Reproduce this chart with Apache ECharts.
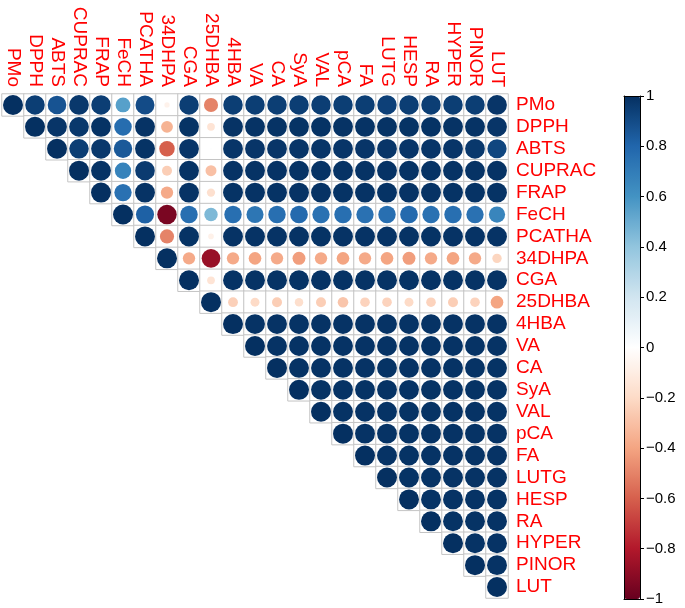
<!DOCTYPE html>
<html>
<head>
<meta charset="utf-8">
<script src="https://cdn.jsdelivr.net/npm/echarts@6/dist/echarts.min.js"></script>
<style>html,body{margin:0;padding:0;background:#fff;}#c{width:685px;height:608px;}</style>
</head>
<body>
<div id="c"></div>
<script>
var vars = ['PMo','DPPH','ABTS','CUPRAC','FRAP','FeCH','PCATHA','34DHPA','CGA','25DHBA','4HBA','VA','CA','SyA','VAL','pCA','FA','LUTG','HESP','RA','HYPER','PINOR','LUT'];

// upper-triangle correlation rows (from the diagonal to the right)
var rowPMo    = [1, 0.95, 0.87, 0.97, 0.95, 0.55, 0.9, -0.07, 0.95, -0.5, 0.95, 0.95, 0.95, 0.95, 0.95, 0.95, 0.95, 0.94, 0.95, 0.95, 0.95, 0.95, 0.98];
var rowDPPH   = [1, 0.98, 0.97, 0.99, 0.77, 0.99, -0.35, 0.99, -0.15, 0.99, 0.99, 0.99, 0.99, 0.99, 0.99, 0.99, 0.99, 0.99, 0.99, 0.99, 0.99, 0.98];
var rowABTS   = [1, 0.95, 0.97, 0.85, 0.99, -0.6, 0.98, 0.01, 0.98, 0.98, 0.98, 0.98, 0.98, 0.98, 0.98, 0.98, 0.98, 0.98, 0.98, 0.97, 0.92];
var rowCUPRAC = [1, 0.99, 0.67, 0.96, -0.25, 0.99, -0.3, 0.99, 0.99, 0.99, 0.99, 0.99, 0.99, 0.99, 0.99, 0.99, 0.99, 0.99, 0.99, 0.99];
var rowFRAP   = [1, 0.75, 0.99, -0.38, 0.99, -0.17, 0.99, 0.99, 0.99, 0.99, 0.99, 0.99, 0.99, 0.99, 0.99, 0.99, 0.99, 0.99, 0.99];
var rowFeCH   = [1, 0.82, -0.95, 0.76, 0.45, 0.76, 0.73, 0.76, 0.78, 0.75, 0.76, 0.75, 0.76, 0.78, 0.75, 0.76, 0.75, 0.66];
var rowPCATHA = [1, -0.5, 0.99, -0.08, 0.99, 0.99, 0.99, 0.99, 0.99, 0.99, 0.99, 0.99, 0.99, 0.99, 0.99, 0.99, 0.99];
var row34DHPA = [1, -0.38, -0.87, -0.38, -0.4, -0.38, -0.42, -0.38, -0.4, -0.38, -0.4, -0.42, -0.38, -0.4, -0.38, -0.22];
var rowCGA    = [1, -0.15, 0.99, 0.99, 0.99, 0.99, 0.99, 0.99, 0.99, 0.99, 0.99, 0.99, 0.99, 0.99, 0.99];
var row25DHBA = [1, -0.24, -0.2, -0.25, -0.18, -0.25, -0.28, -0.23, -0.23, -0.2, -0.23, -0.25, -0.23, -0.4];
var row4HBA   = [1, 0.99, 0.99, 0.99, 0.99, 0.99, 0.99, 0.99, 0.99, 0.99, 0.99, 0.99, 0.99];
var rowVA     = [1, 0.99, 0.99, 0.99, 0.99, 0.99, 0.99, 0.99, 0.99, 0.99, 0.99, 0.99];
var rowCA     = [1, 0.99, 0.99, 0.99, 0.99, 0.99, 0.99, 0.99, 0.99, 0.99, 0.99];
var rowSyA    = [1, 0.99, 0.99, 0.99, 0.99, 0.99, 0.99, 0.99, 0.99, 0.99];
var rowVAL    = [1, 0.99, 0.99, 0.99, 0.99, 0.99, 0.99, 0.99, 0.99];
var rowpCA    = [1, 0.99, 0.99, 0.99, 0.99, 0.99, 0.99, 0.99];
var rowFA     = [1, 0.99, 0.99, 0.99, 0.99, 0.99, 0.99];
var rowLUTG   = [1, 0.99, 0.99, 0.99, 0.99, 0.99];
var rowHESP   = [1, 0.99, 0.99, 0.99, 0.99];
var rowRA     = [1, 0.99, 0.99, 0.99];
var rowHYPER  = [1, 0.99, 0.99];
var rowPINOR  = [1, 0.99];
var rowLUT    = [1];

var colorTicks = [1, 0.8, 0.6, 0.4, 0.2, 0, -0.2, -0.4, -0.6, -0.8, -1];
var palette = ['#67001F','#B2182B','#D6604D','#F4A582','#FDDBC7','#FFFFFF','#D1E5F0','#92C5DE','#4393C3','#2166AC','#053061'];

var rows = [rowPMo,rowDPPH,rowABTS,rowCUPRAC,rowFRAP,rowFeCH,rowPCATHA,row34DHPA,rowCGA,row25DHBA,row4HBA,rowVA,rowCA,rowSyA,rowVAL,rowpCA,rowFA,rowLUTG,rowHESP,rowRA,rowHYPER,rowPINOR,rowLUT];

var cells = [], circles = [];
rows.forEach(function (r, i) {
  r.forEach(function (v, k) {
    var j = i + k;
    cells.push([j, i, 0]);
    circles.push([j, i, v]);
  });
});

var FONT = 'Liberation Sans, Arial, sans-serif';
var chart = echarts.init(document.getElementById('c'), null, {renderer: 'canvas'});
chart.setOption({
  animation: false,
  backgroundColor: '#fff',
  grid: [
    {left: 2, top: 94, width: 506, height: 504},
    {left: 624, top: 96, width: 16, height: 503}
  ],
  xAxis: [
    {type: 'category', gridIndex: 0, data: vars, position: 'top',
     axisLine: {show: false}, axisTick: {show: false}, splitLine: {show: false},
     axisLabel: {interval: 0, rotate: 90, align: 'right', verticalAlign: 'middle', color: '#FF0000', fontSize: 19, fontFamily: FONT, margin: 7}},
    {type: 'value', gridIndex: 1, min: 0, max: 1, position: 'bottom', z: 10,
     axisLine: {show: true, onZero: false, lineStyle: {color: '#000', width: 1}}, axisTick: {show: false}, axisLabel: {show: false}, splitLine: {show: false}},
    {type: 'value', gridIndex: 1, min: 0, max: 1, position: 'top', z: 10,
     axisLine: {show: true, onZero: false, lineStyle: {color: '#000', width: 1}}, axisTick: {show: false}, axisLabel: {show: false}, splitLine: {show: false}}
  ],
  yAxis: [
    {type: 'category', gridIndex: 0, data: vars, inverse: true, position: 'right',
     axisLine: {show: false}, axisTick: {show: false}, splitLine: {show: false},
     axisLabel: {interval: 0, color: '#FF0000', fontSize: 19, fontFamily: FONT, margin: 8}},
    {type: 'value', gridIndex: 1, min: -1, max: 1, interval: 0.2, position: 'right', z: 10,
     axisLine: {show: true, onZero: false, lineStyle: {color: '#000', width: 1}},
     axisTick: {show: true, length: 4, lineStyle: {color: '#000'}},
     splitLine: {show: false},
     axisLabel: {color: '#000', fontSize: 15, fontFamily: FONT, margin: 6,
       formatter: function (v) { var s = String(parseFloat(Number(v).toFixed(1))); return s.replace('-', '\u2212'); }}},
    {type: 'value', gridIndex: 1, min: -1, max: 1, position: 'left', z: 10,
     axisLine: {show: true, onZero: false, lineStyle: {color: '#000', width: 1}},
     axisTick: {show: false}, axisLabel: {show: false}, splitLine: {show: false}}
  ],
  visualMap: {
    type: 'continuous', min: -1, max: 1, seriesIndex: 1, dimension: 2,
    left: 624, top: 96, itemWidth: 16, itemHeight: 503, padding: 0,
    calculable: false, text: null, showLabel: false, orient: 'vertical',
    inRange: {color: palette}
  },
  series: [
    {type: 'heatmap', xAxisIndex: 0, yAxisIndex: 0, data: cells,
     itemStyle: {color: '#FFFFFF', borderColor: '#C4C4C4', borderWidth: 1},
     emphasis: {disabled: true}},
    {type: 'scatter', xAxisIndex: 0, yAxisIndex: 0, data: circles, symbol: 'circle',
     symbolSize: function (d) { return 20 * Math.sqrt(Math.abs(d[2])); },
     itemStyle: {opacity: 1}, z: 5}
  ]
});
</script>
</body>
</html>
